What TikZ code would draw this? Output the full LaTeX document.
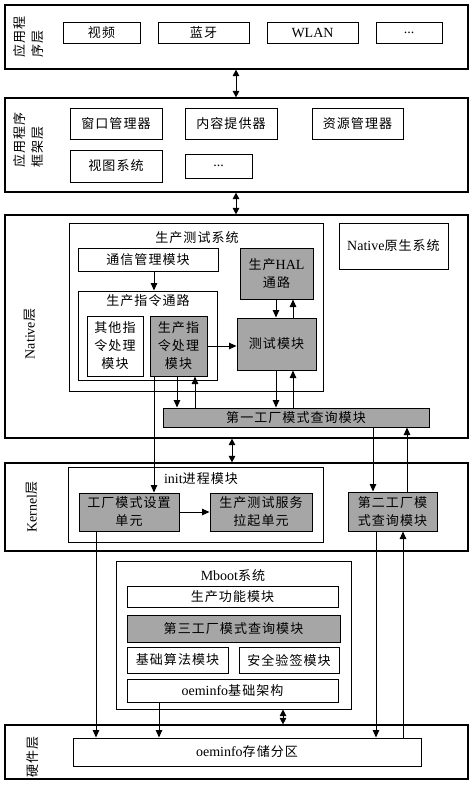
\documentclass[tikz,border=0pt]{standalone}
\usepackage{fontspec}
\setmainfont{Liberation Serif}
\newfontfamily\cjk[Scale=0.93,LetterSpace=8]{Noto Sans CJK SC}
\usetikzlibrary{arrows.meta}
\newcommand\zh[1]{{\cjk #1}}
\newcommand\fs{\fontsize{14}{18}\selectfont}
\definecolor{boxgray}{RGB}{166,166,166}
\tikzset{
  bx/.style={draw, line width=1pt, inner sep=1pt, align=center},
  gbx/.style={bx, fill=boxgray},
  cont/.style={draw, line width=1pt},
  layer/.style={draw, line width=1.2pt},
  arr/.style={-{Triangle[length=7.5pt,width=6.5pt]}, line width=1pt},
  darr/.style={{Triangle[length=6.5pt,width=6.5pt]}-{Triangle[length=6.5pt,width=6.5pt]}, line width=1pt},
  lab/.style={rotate=90, align=left, inner sep=0pt},
  ttl/.style={inner sep=0pt},
}
\newcommand\bx[7][bx]{\node[#1, minimum width={(#5-#3)*1pt}, minimum height={(#6-#4)*1pt}] (#2) at ({(#3+#5)/2},{(#4+#6)/2}) {#7};}
\begin{document}
\begin{tikzpicture}[x=1pt, y=-1pt, font=\fs]
\useasboundingbox (0,0) rectangle (474,785);
% layers
\bx[layer]{app}{5}{5}{468}{69}{}
\bx[layer]{fw}{5}{98}{468}{192}{}
\bx[layer]{native}{5}{215}{468}{438}{}
\bx[layer]{kernel}{5}{463}{468}{551}{}
\bx[layer]{hw}{5}{725}{468}{779}{}
% layer labels
\node[lab] (lapp) at (29,37) {\zh{应用程}\\\zh{序层}};
\node[lab] (lfw) at (29,140) {\zh{应用程序}\\\zh{框架层}};
\node[lab] (lnat) at (30,334) {Native\zh{层}};
\node[lab] (lker) at (32,507) {Kernel\zh{层}};
\node[lab] (lhw) at (33,757) {\zh{硬件层}};
% application layer
\bx{video}{63}{22}{140}{43}{\zh{视频}}
\bx{bt}{158}{22}{249}{43}{\zh{蓝牙}}
\bx{wlan}{267}{22}{358}{43}{WLAN}
\bx{appdots}{376}{22}{442}{43}{...}
% framework layer
\bx{win}{70}{108}{162}{139}{\zh{窗口管理器}}
\bx{cont}{185}{108}{277}{139}{\zh{内容提供器}}
\bx{res}{312}{108}{403}{139}{\zh{资源管理器}}
\bx{view}{70}{150}{162}{182}{\zh{视图系统}}
\bx{fwdots}{185}{154}{252}{178}{...}
% native layer
\bx[cont]{sys}{69}{223}{323}{391}{}
\node[ttl] (systtl) at (197,238) {\zh{生产测试系统}};
\bx{nat}{339}{223}{448}{269}{Native\zh{原生系统}}
\bx{tx}{78}{248}{218}{271}{\zh{通信管理模块}}
\bx[cont]{zltl}{78}{291}{217}{380}{}
\node[ttl] (zltltl) at (148,301) {\zh{生产指令通路}};
\bx{other}{87}{316}{143}{376}{\zh{其他指}\\\zh{令处理}\\\zh{模块}}
\bx[gbx]{sczl}{150}{316}{207}{376}{\zh{生产指}\\\zh{令处理}\\\zh{模块}}
\bx[gbx]{hal}{240}{248}{313}{299}{\zh{生产}HAL\\\zh{通路}}
\bx[gbx]{test}{237}{318}{316}{370}{\zh{测试模块}}
\bx[gbx]{first}{163}{408}{429}{427}{\zh{第一工厂模式查询模块}}
% kernel layer
\bx[cont]{init}{68}{467}{323}{542}{}
\node[ttl] (inittl) at (201,479) {init\zh{进程模块}};
\bx[gbx]{gcsz}{79}{493}{179}{531}{\zh{工厂模式设置}\\\zh{单元}}
\bx[gbx]{scfw}{210}{493}{312}{531}{\zh{生产测试服务}\\\zh{拉起单元}}
\bx[gbx]{second}{348}{492}{437}{531}{\zh{第二工厂模}\\\zh{式查询模块}}
% mboot
\bx[cont]{mboot}{116}{561}{351}{709}{}
\node[ttl] (mboottl) at (233,575) {Mboot\zh{系统}};
\bx{func}{127}{586}{338}{607}{\zh{生产功能模块}}
\bx[gbx]{third}{127}{615}{340}{642}{\zh{第三工厂模式查询模块}}
\bx{algo}{127}{647}{228}{673}{\zh{基础算法模块}}
\bx{sec}{239}{647}{339}{673}{\zh{安全验签模块}}
\bx{oembase}{127}{679}{338}{702}{oeminfo\zh{基础架构}}
% hardware
\bx{store}{73}{738}{421}{766}{oeminfo\zh{存储分区}}
% connectors
\draw[darr] (app.south -| 236,0) -- (fw.north -| 236,0);
\draw[darr] (fw.south -| 236,0) -- (native.north -| 236,0);
\draw[darr] (native.south -| 232,0) -- (kernel.north -| 232,0);
\draw[darr] (mboot.south -| 283,0) -- (hw.north -| 283,0);
\draw[arr] (tx.south -| 154,0) -- (zltl.north -| 154,0);
\draw[arr] (sczl.east) -- (test.west |- sczl.east);
\draw[arr] (hal.south -| 276,0) -- (test.north -| 276,0);
\draw[arr] (test.north -| 293,0) -- (hal.south -| 293,0);
\draw[arr] (test.south -| 276,0) -- (first.north -| 276,0);
\draw[arr] (first.north -| 293,0) -- (test.south -| 293,0);
\draw[arr] (sczl.south -| 177,0) -- (first.north -| 177,0);
\draw[arr] (first.north -| 195,0) -- (sczl.south -| 195,0);
\draw[arr] (sczl.south -| 154,0) -- (gcsz.north -| 154,0);
\draw[arr] (first.south -| 373,0) -- (second.north -| 373,0);
\draw[arr] (second.north -| 407,0) -- (first.south -| 407,0);
\draw[arr] (gcsz.east) -- (scfw.west);
\draw[arr] (gcsz.south -| 96,0) -- (store.north -| 96,0);
\draw[arr] (second.south -| 376,0) -- (store.north -| 376,0);
\draw[arr] (store.north -| 403,0) -- (second.south -| 403,0);
\draw[arr] (oembase.south -| 159,0) -- (store.north -| 159,0);
\end{tikzpicture}
\end{document}
